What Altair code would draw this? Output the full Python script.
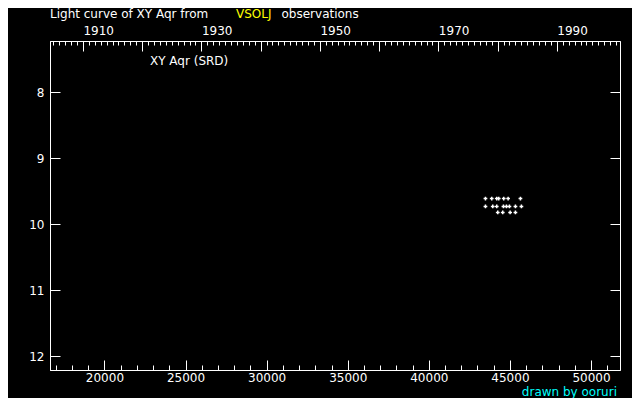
import altair as alt
import pandas as pd

# ---- data (JD - 2400000, visual magnitude) ----
JD = [43491, 43879, 44187, 44310, 44618, 44889, 45647,
      43491, 43941, 44187, 44600, 44785, 44969, 45339, 45708,
      44249, 44557, 45012, 45339]
MAG = [9.61, 9.61, 9.61, 9.61, 9.61, 9.61, 9.61,
       9.73, 9.73, 9.73, 9.73, 9.73, 9.73, 9.73, 9.73,
       9.82, 9.82, 9.82, 9.82]

JD_DOMAIN = [16644, 51786]
YEAR_DOMAIN = [1904.446, 2000.66]
MAG_DOMAIN = [7.22, 12.21]

JD_LABELS = [20000, 25000, 30000, 35000, 40000, 45000, 50000]
JD_MAJOR = [20000, 25000, 30000, 35000, 40000, 45000, 50000]
JD_MINOR = list(range(17000, 52000, 1000))
YEAR_LABELS = [1910, 1930, 1950, 1970, 1990]
YEAR_MAJOR = [1910, 1920, 1930, 1940, 1950, 1960, 1970, 1980, 1990]
YEAR_MINOR = list(range(1905, 2001))
MAG_TICKS = [8, 9, 10, 11, 12]

TITLE_A = "Light curve of XY Aqr from"
TITLE_B = "VSOLJ"
TITLE_C = "observations"
STAR_LABEL = "XY Aqr (SRD)"
CREDIT = "drawn by ooruri"

FONT = "DejaVu Sans"
W, H = 570, 329

df = pd.DataFrame({"jd": JD, "mag": MAG})
yr = pd.DataFrame({"year": [1950], "mag": [10]})

xs = alt.Scale(domain=JD_DOMAIN, nice=False, zero=False)
ys = alt.Scale(domain=MAG_DOMAIN, nice=False, zero=False, reverse=True)
yrs = alt.Scale(domain=YEAR_DOMAIN, nice=False, zero=False)

common = dict(grid=False, title=None, tickColor="white", domainColor="white",
              labelColor="white", labelFont=FONT, labelFontSize=12, format="d")


def tick_axis(orient, values, size):
    return alt.Axis(orient=orient, values=values, tickSize=size, offset=-size,
                    labels=False, domain=False, **common)


pts = alt.Chart(df).mark_point(shape="cross", filled=True, color="white",
                               size=14, opacity=1).encode(
    x=alt.X("jd:Q", scale=xs,
            axis=alt.Axis(orient="bottom", values=JD_LABELS, tickSize=0,
                          labelPadding=2, labelFlush=False, **common)),
    y=alt.Y("mag:Q", scale=ys,
            axis=alt.Axis(orient="left", values=MAG_TICKS, tickSize=0,
                          labelPadding=6, labelFlush=False, **common)),
)

l2 = alt.Chart(df).mark_point(opacity=0).encode(
    x=alt.X("jd:Q", scale=xs, axis=tick_axis("bottom", JD_MAJOR, 10)),
    y=alt.Y("mag:Q", scale=ys, axis=tick_axis("left", MAG_TICKS, 10)),
)

l3 = alt.Chart(df).mark_point(opacity=0).encode(
    x=alt.X("jd:Q", scale=xs, axis=tick_axis("bottom", JD_MINOR, 5)),
    y=alt.Y("mag:Q", scale=ys, axis=tick_axis("right", MAG_TICKS, 10)),
)

l4 = alt.Chart(yr).mark_point(opacity=0).encode(
    x=alt.X("year:Q", scale=yrs,
            axis=alt.Axis(orient="top", values=YEAR_LABELS, tickSize=0,
                          labelPadding=4, labelAlign="left", labelFlush=False,
                          **common)),
    y=alt.Y("mag:Q", scale=ys, axis=None),
)

l5 = alt.Chart(yr).mark_point(opacity=0).encode(
    x=alt.X("year:Q", scale=yrs, axis=tick_axis("top", YEAR_MAJOR, 10)),
    y=alt.Y("mag:Q", scale=ys, axis=None),
)

l6 = alt.Chart(yr).mark_point(opacity=0).encode(
    x=alt.X("year:Q", scale=yrs, axis=tick_axis("top", YEAR_MINOR, 4)),
    y=alt.Y("mag:Q", scale=ys, axis=None),
)


def txt(s, x, y, color, align="left"):
    return alt.Chart(pd.DataFrame({"t": [s]})).mark_text(
        align=align, baseline="middle", font=FONT, fontSize=12, color=color
    ).encode(text="t:N", x=alt.value(x), y=alt.value(y))


texts = [
    txt(TITLE_A, 0, -26.8, "white"),
    txt(TITLE_B, 186, -26.8, "#ffff00"),
    txt(TITLE_C, 231.5, -26.8, "white"),
    txt(STAR_LABEL, 100, 20.3, "white"),
    txt(CREDIT, 567, 350.5, "#00ffff", align="right"),
]

chart = alt.layer(pts, l2, l3, l4, l5, l6, *texts).resolve_scale(
    x="independent", y="independent"
).properties(
    width=W, height=H,
    autosize=alt.AutoSizeParams(type="none"),
    padding={"left": 42, "top": 33, "right": 12, "bottom": 28},
    background="black",
).configure_view(stroke="white", strokeWidth=1)

chart.save("out.html", embed_options={"renderer": "svg", "actions": False})
